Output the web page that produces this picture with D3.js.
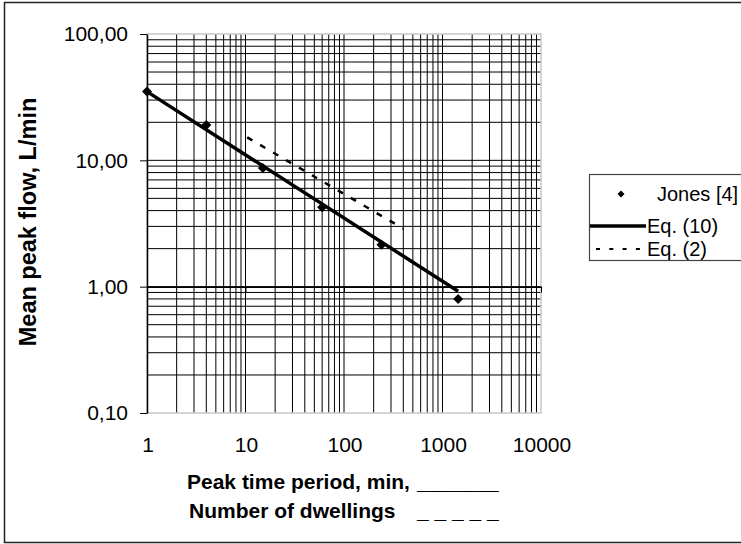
<!DOCTYPE html>
<html>
<head>
<meta charset="utf-8">
<script src="https://cdn.jsdelivr.net/npm/d3@7"></script>
<style>
  body { margin: 0; background: #fff; }
  svg { display: block; font-family: "Liberation Sans", Arial, sans-serif; }
</style>
</head>
<body>
<svg id="chart" width="741" height="544"></svg>
<script>
"use strict";

// Jones [4] measurements
const jonesX = [1, 4, 15, 60, 240, 1440];
const jonesY = [35, 19, 8.7, 4.25, 2.15, 0.8];

// Eq. (10) fitted line
const eq10X = [1, 1440];
const eq10Y = [35, 0.92];

// Eq. (2) dashed line
const eq2X = [10.4, 400];
const eq2Y = [15.2, 2.88];

const xTicks = [1, 10, 100, 1000, 10000];
const yTicks = [0.1, 1, 10, 100];
const legendNames = ["Jones [4]", "Eq. (10)", "Eq. (2)"];

const svg = d3.select("#chart");

const x = d3.scaleLog().domain([1, 10000]).range([147, 541]);
const y = d3.scaleLog().domain([0.1, 100]).range([413, 34]);

// outer frame
svg.append("rect")
  .attr("x", 4.5).attr("y", 2.5)
  .attr("width", 745).attr("height", 540)
  .attr("fill", "#fff").attr("stroke", "#222").attr("stroke-width", 1.5);

// minor + major grid values
function logGrid(lo, hi) {
  const out = [];
  for (let d = lo; d < hi; d *= 10) {
    for (let m = 1; m < 10; m++) out.push(d * m);
  }
  return out;
}

const grid = svg.append("g").attr("class", "grid");

grid.selectAll(".vgrid")
  .data(logGrid(1, 10000).filter(v => v > 1))
  .enter().append("line")
  .attr("class", "vgrid")
  .attr("x1", d => x(d)).attr("x2", d => x(d))
  .attr("y1", y(100)).attr("y2", y(0.1))
  .attr("stroke", "#000").attr("stroke-width", 1);

grid.selectAll(".hgrid")
  .data(logGrid(0.1, 100).filter(v => v > 0.1))
  .enter().append("line")
  .attr("class", "hgrid")
  .attr("x1", x(1)).attr("x2", x(10000))
  .attr("y1", d => y(d)).attr("y2", d => y(d))
  .attr("stroke", "#000").attr("stroke-width", 1);

// plot area border (light)
svg.append("rect")
  .attr("x", x(1)).attr("y", y(100))
  .attr("width", x(10000) - x(1)).attr("height", y(0.1) - y(100))
  .attr("fill", "none").attr("stroke", "#c8c8c8").attr("stroke-width", 1.5);

// y axis
const fmtComma = d => d3.format(".2f")(d).replace(".", ",");
const yAxis = svg.append("g")
  .attr("transform", `translate(${x(1)},0)`)
  .call(d3.axisLeft(y).tickValues(yTicks).tickFormat(fmtComma)
    .tickSize(7).tickSizeOuter(0).tickPadding(12));
yAxis.select(".domain").attr("stroke", "#000").attr("stroke-width", 1.5);
yAxis.selectAll("text").attr("font-size", 21).attr("fill", "#000")
  .attr("font-family", "Liberation Sans, Arial, sans-serif");

// x axis crossing at y = 1 (no labels there)
const xAxis = svg.append("g")
  .attr("transform", `translate(0,${y(1)})`)
  .call(d3.axisBottom(x).tickValues(xTicks).tickFormat("").tickSize(6).tickSizeOuter(0));
xAxis.select(".domain").attr("stroke", "#000").attr("stroke-width", 1.5);

// x tick labels at the bottom
svg.append("g").selectAll("text")
  .data(xTicks)
  .enter().append("text")
  .attr("x", d => x(d) + 1)
  .attr("y", 452)
  .attr("text-anchor", "middle")
  .attr("font-size", 21)
  .text(d => d);

// Eq. (10)
const line = d3.line().x(d => x(d[0])).y(d => y(d[1]));
svg.append("path")
  .datum(d3.zip(eq10X, eq10Y))
  .attr("d", line)
  .attr("fill", "none").attr("stroke", "#000").attr("stroke-width", 3.5);

// Eq. (2)
svg.append("path")
  .datum(d3.zip(eq2X, eq2Y))
  .attr("d", line)
  .attr("fill", "none").attr("stroke", "#000").attr("stroke-width", 2.5)
  .attr("stroke-dasharray", "6,9");

// Jones markers
const diamond = r => `M0,${-r}L${r},0L0,${r}L${-r},0Z`;
svg.append("g").selectAll("path")
  .data(d3.zip(jonesX, jonesY))
  .enter().append("path")
  .attr("transform", d => `translate(${x(d[0])},${y(d[1])})`)
  .attr("d", diamond(5))
  .attr("fill", "#000");

// axis titles
svg.append("text")
  .attr("transform", "translate(36,222) rotate(-90)")
  .attr("text-anchor", "middle")
  .attr("font-size", 23.5).attr("font-weight", "bold")
  .text("Mean peak flow, L/min");

svg.append("text")
  .attr("x", 187).attr("y", 489)
  .attr("font-size", 21).attr("font-weight", "bold")
  .text("Peak time period, min,");
svg.append("text")
  .attr("x", 417).attr("y", 489)
  .attr("font-size", 21).attr("font-weight", "bold")
  .text("_______");
svg.append("text")
  .attr("x", 189).attr("y", 518)
  .attr("font-size", 21).attr("font-weight", "bold")
  .text("Number of dwellings");
svg.append("text")
  .attr("x", 417).attr("y", 518)
  .attr("font-size", 21).attr("font-weight", "bold")
  .text("_ _ _ _ _");

// legend
const lg = svg.append("g");
lg.append("rect")
  .attr("x", 589.5).attr("y", 174.5)
  .attr("width", 200).attr("height", 86)
  .attr("fill", "#fff").attr("stroke", "#444").attr("stroke-width", 1.2);

const rows = [194, 226, 249];
lg.append("path")
  .attr("transform", `translate(621,${rows[0]})`)
  .attr("d", diamond(3.5)).attr("fill", "#000");
lg.append("line")
  .attr("x1", 590).attr("x2", 646).attr("y1", rows[1]).attr("y2", rows[1])
  .attr("stroke", "#000").attr("stroke-width", 3.5);
lg.append("line")
  .attr("x1", 596).attr("x2", 646).attr("y1", rows[2]).attr("y2", rows[2])
  .attr("stroke", "#000").attr("stroke-width", 2)
  .attr("stroke-dasharray", "4,9.3");

lg.selectAll(".ltext")
  .data(legendNames)
  .enter().append("text")
  .attr("class", "ltext")
  .attr("x", (d, i) => i === 0 ? 657 : 647)
  .attr("y", (d, i) => rows[i] + 7)
  .attr("font-size", 20)
  .text(d => d);
</script>
</body>
</html>
